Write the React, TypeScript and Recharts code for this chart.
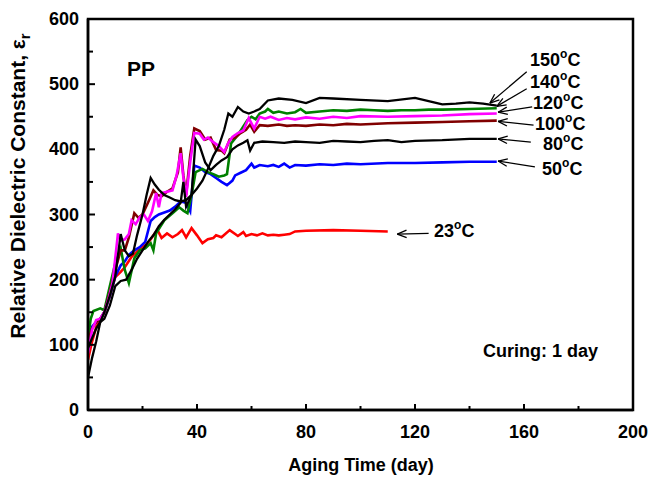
import { LineChart, Line, XAxis, YAxis, ReferenceArea, ReferenceLine } from 'recharts';

// [day, relative dielectric constant]
const t23: [number, number][] = [
  [0, 77], [1.5, 105], [3, 127], [4.5, 138], [6, 150], [8, 175], [10, 204], [12, 212], [13.5, 219],
  [16, 235], [18.5, 245], [22, 256], [24.5, 271], [25.5, 276], [27, 264], [29, 271], [31, 265],
  [33, 270], [34.5, 276], [36, 265], [38, 279], [40, 268], [42, 256], [44, 262], [46, 264], [47, 268],
  [49, 265], [52, 276], [54, 270], [55, 267], [57, 273], [58, 267], [60, 270], [62, 268], [64, 271],
  [66, 268], [68, 269], [70, 268], [72, 269], [74, 270], [76, 274], [80, 275], [90, 276], [100, 275], [110, 274],
];

const t50: [number, number][] = [
  [0, 112], [1.5, 128], [3, 135], [4.5, 140], [6, 150], [8, 175], [10, 205], [12, 222], [13.5, 228],
  [15, 238], [17, 245], [19, 250], [21, 258], [23, 290], [24.5, 296], [26, 300], [28, 303], [30, 306],
  [32, 312], [34, 320], [36, 318], [37.5, 305], [39, 375], [41, 372], [43, 365], [45, 362], [47, 356],
  [49, 350], [51, 345], [53, 352], [54, 360], [56, 364], [58, 368], [59, 373], [60, 378], [61, 372],
  [63, 376], [66, 374], [68, 376], [70, 373], [72, 378], [74, 372], [76, 376], [80, 375], [85, 377],
  [90, 376], [95, 378], [100, 377], [110, 379], [120, 379], [130, 380], [140, 381], [150, 381],
];

const t80: [number, number][] = [
  [0, 95], [1.5, 110], [3, 125], [4.5, 135], [6, 140], [8, 160], [10, 190], [12, 198], [14, 200],
  [16, 215], [18, 232], [20, 245], [22, 258], [24, 268], [26, 282], [28, 292], [30, 300], [32, 308],
  [34, 318], [35, 350], [36, 312], [38, 330], [39.5, 415], [41, 405], [43, 380], [45, 368], [47, 376],
  [49, 383], [51, 388], [53, 400], [55, 406], [57, 410], [58.5, 414], [59.5, 398], [61, 410], [64, 412],
  [68, 411], [72, 410], [76, 412], [80, 411], [85, 410], [90, 413], [95, 412], [100, 411], [105, 413],
  [110, 414], [115, 411], [120, 413], [130, 414], [140, 416], [150, 416],
];

const t100: [number, number][] = [
  [0, 105], [1.5, 125], [3, 135], [4.5, 140], [6, 150], [8, 180], [10, 215], [12, 245], [13.5, 245],
  [15, 265], [17, 302], [18.5, 295], [20, 300], [22, 318], [24, 337], [25.5, 330], [27, 328], [29, 335],
  [31, 340], [33, 365], [34, 403], [35, 360], [36, 330], [37.5, 390], [39, 432], [41, 428], [43, 415],
  [45, 418], [47, 399], [49, 398], [50, 394], [52, 415], [54, 418], [56, 425], [58, 430], [59.5, 438],
  [61, 427], [63, 437], [66, 436], [70, 438], [73, 436], [76, 437], [80, 436], [85, 438], [90, 437],
  [95, 439], [100, 438], [110, 440], [120, 441], [130, 442], [140, 443], [150, 444],
];

const t120: [number, number][] = [
  [0, 87], [1.5, 123], [3, 138], [4.5, 140], [6, 150], [7.5, 170], [9, 195], [11, 271], [12, 260],
  [13.5, 262], [15, 270], [16, 291], [17.5, 285], [19, 296], [20.5, 300], [22, 290], [23.5, 305],
  [25, 333], [26, 311], [27, 333], [29, 335], [31, 337], [32.5, 360], [34, 394], [35, 357], [36, 327],
  [37.5, 380], [39, 425], [41, 424], [42.5, 415], [44, 418], [46, 411], [48, 405], [50, 396], [51.5, 410],
  [53, 419], [55, 425], [57, 429], [59, 448], [61, 432], [63, 450], [65, 447], [67, 450], [70, 445],
  [73, 448], [76, 446], [80, 449], [85, 447], [90, 450], [95, 448], [100, 451], [110, 450], [120, 451],
  [130, 452], [140, 454], [150, 455],
];

const t140: [number, number][] = [
  [0, 110], [1, 140], [2, 152], [4.5, 156], [6, 153], [8, 190], [10, 225], [12, 248], [13.5, 215],
  [15, 195], [17, 233], [19, 245], [21, 248], [23, 256], [24, 245], [25, 271], [28, 291], [31, 302],
  [33.5, 311], [35, 306], [36.5, 302], [38, 330], [39.5, 365], [42, 370], [44, 365], [46, 362], [48, 358],
  [50, 360], [51, 362], [52.5, 409], [55, 422], [57, 435], [58.5, 445], [60, 450], [61.5, 446], [63, 455],
  [65, 458], [66, 462], [68, 456], [70, 458], [73, 455], [76, 457], [78, 462], [80, 456], [85, 458],
  [90, 460], [95, 459], [100, 461], [105, 460], [110, 459], [115, 460], [120, 460], [125, 461],
  [130, 461], [140, 462], [150, 463],
];

const t150: [number, number][] = [
  [0, 50], [1.5, 80], [3, 105], [4.5, 135], [6, 150], [8, 175], [10, 205], [12, 270], [13.5, 245],
  [15, 236], [16.5, 240], [18, 268], [20, 300], [21.5, 330], [23, 356], [24.5, 346], [26, 338], [28, 330],
  [30, 326], [32, 322], [34, 320], [36, 322], [38, 330], [40, 340], [42, 352], [44, 370], [46, 390],
  [48, 405], [50, 430], [51.5, 455], [53, 450], [55, 465], [57, 458], [59, 455], [61, 458], [63, 462],
  [66, 475], [70, 478], [75, 476], [80, 471], [85, 479], [90, 478], [100, 476], [110, 474], [120, 479],
  [125, 474], [130, 469], [135, 470], [140, 472], [145, 470], [150, 467],
];

const xTicks = [0, 20, 40, 60, 80, 100, 120, 140, 160, 180, 200];
const yTicks = [0, 50, 100, 150, 200, 250, 300, 350, 400, 450, 500, 550, 600];

// arrow: [tip day, tip value, tail day, tail value]
const arrows: [number, number, number, number][] = [
  [147.5, 471, 161, 519],
  [150, 466, 161, 493],
  [150.5, 457, 163, 465],
  [150.5, 443, 163.5, 437],
  [150.5, 416, 162.5, 411],
  [150.5, 382, 164, 373],
  [113.5, 270, 125, 271],
];

const tempLabels: [string, number, number][] = [
  ['150', 530, 66],
  ['140', 530, 88],
  ['120', 533, 109],
  ['100', 535, 130],
  ['80', 543, 150],
  ['50', 542, 175],
  ['23', 434, 237],
];

const font = '"Liberation Sans", Arial, sans-serif';

const pts = (s: [number, number][]) => s.map(([day, value]) => ({ day, value }));

const YTick = (props: any) => {
  const { x, y, payload } = props;
  const major = payload.value % 100 === 0;
  return (
    <g>
      <line x1={x} x2={x + (major ? 7 : 5)} y1={y} y2={y} stroke="#000" strokeWidth={2} />
      {major && (
        <text x={x - 9} y={y + 6} textAnchor="end" fontSize={18} fontWeight="bold" fontFamily={font} fill="#000">
          {payload.value}
        </text>
      )}
    </g>
  );
};

const XTick = (props: any) => {
  const { x, y, payload } = props;
  const major = payload.value % 40 === 0;
  return (
    <g>
      <line x1={x} x2={x} y1={y} y2={y - (major ? 6 : 4)} stroke="#000" strokeWidth={2} />
      {major && (
        <text x={x} y={y + 28} textAnchor="middle" fontSize={18} fontWeight="bold" fontFamily={font} fill="#000">
          {payload.value}
        </text>
      )}
    </g>
  );
};

const arrowShape = (props: any) => {
  const { x1, y1, x2, y2 } = props;
  const a = Math.atan2(y2 - y1, x2 - x1);
  const h = 10;
  return (
    <g stroke="#000" strokeWidth={1.3} fill="none">
      <line x1={x1} y1={y1} x2={x2} y2={y2} />
      <line x1={x1} y1={y1} x2={x1 + h * Math.cos(a + 0.38)} y2={y1 + h * Math.sin(a + 0.38)} />
      <line x1={x1} y1={y1} x2={x1 + h * Math.cos(a - 0.38)} y2={y1 + h * Math.sin(a - 0.38)} />
    </g>
  );
};

const seriesList: [string, [number, number][], string][] = [
  ['23', t23, '#ff0000'],
  ['50', t50, '#0000ff'],
  ['140', t140, '#008000'],
  ['100', t100, '#800000'],
  ['120', t120, '#ff00ff'],
  ['80', t80, '#000000'],
  ['150', t150, '#000000'],
];

export default function App() {
  return (
    <div style={{ position: 'absolute', left: 0, top: 0, width: 649, height: 477, background: '#fff' }}>
      <LineChart width={649} height={477} margin={{ top: 19, right: 16, left: 0, bottom: 0 }}>
        <XAxis
          dataKey="day"
          type="number"
          domain={[0, 200]}
          ticks={xTicks}
          tick={<XTick />}
          tickSize={0}
          tickMargin={0}
          tickLine={false}
          height={67}
          axisLine={{ stroke: '#000', strokeWidth: 2.5 }}
          allowDataOverflow
        />
        <YAxis
          type="number"
          domain={[0, 600]}
          ticks={yTicks}
          tick={<YTick />}
          tickSize={0}
          tickMargin={0}
          tickLine={false}
          width={88}
          axisLine={{ stroke: '#000', strokeWidth: 2.5 }}
          allowDataOverflow
        />
        <ReferenceArea x1={0} x2={200} y1={0} y2={600} fill="none" stroke="#000" strokeWidth={2.5} fillOpacity={0} />
        {seriesList.map(([name, s, color]) => (
          <Line
            key={name}
            data={pts(s)}
            dataKey="value"
            type="linear"
            stroke={color}
            strokeWidth={name === '80' || name === '150' ? 2.3 : 2.6}
            dot={false}
            isAnimationActive={false}
          />
        ))}
        {arrows.map(([d1, v1, d2, v2], i) => (
          <ReferenceLine
            key={i}
            segment={[{ x: d1, y: v1 }, { x: d2, y: v2 }]}
            shape={arrowShape}
            ifOverflow="visible"
          />
        ))}
      </LineChart>
      <svg width={649} height={477} style={{ position: 'absolute', left: 0, top: 0, pointerEvents: 'none' }}>
        <g fontFamily={font} fontWeight="bold" fill="#000">
          <text x={127} y={76} fontSize={21}>PP</text>
          {tempLabels.map(([t, x, y]) => (
            <text key={t} x={x} y={y} fontSize={18}>
              {t}
              <tspan fontSize={12} dy={-8}>o</tspan>
              <tspan dy={8}>C</tspan>
            </text>
          ))}
          <text x={483} y={357} fontSize={18}>Curing: 1 day</text>
          <text x={361} y={471} fontSize={18} textAnchor="middle">Aging Time (day)</text>
          <text transform="translate(25,186) rotate(-90)" fontSize={21} textAnchor="middle">
            Relative Dielectric Constant, ε<tspan fontSize={15} dy={5}>r</tspan>
          </text>
        </g>
      </svg>
    </div>
  );
}
